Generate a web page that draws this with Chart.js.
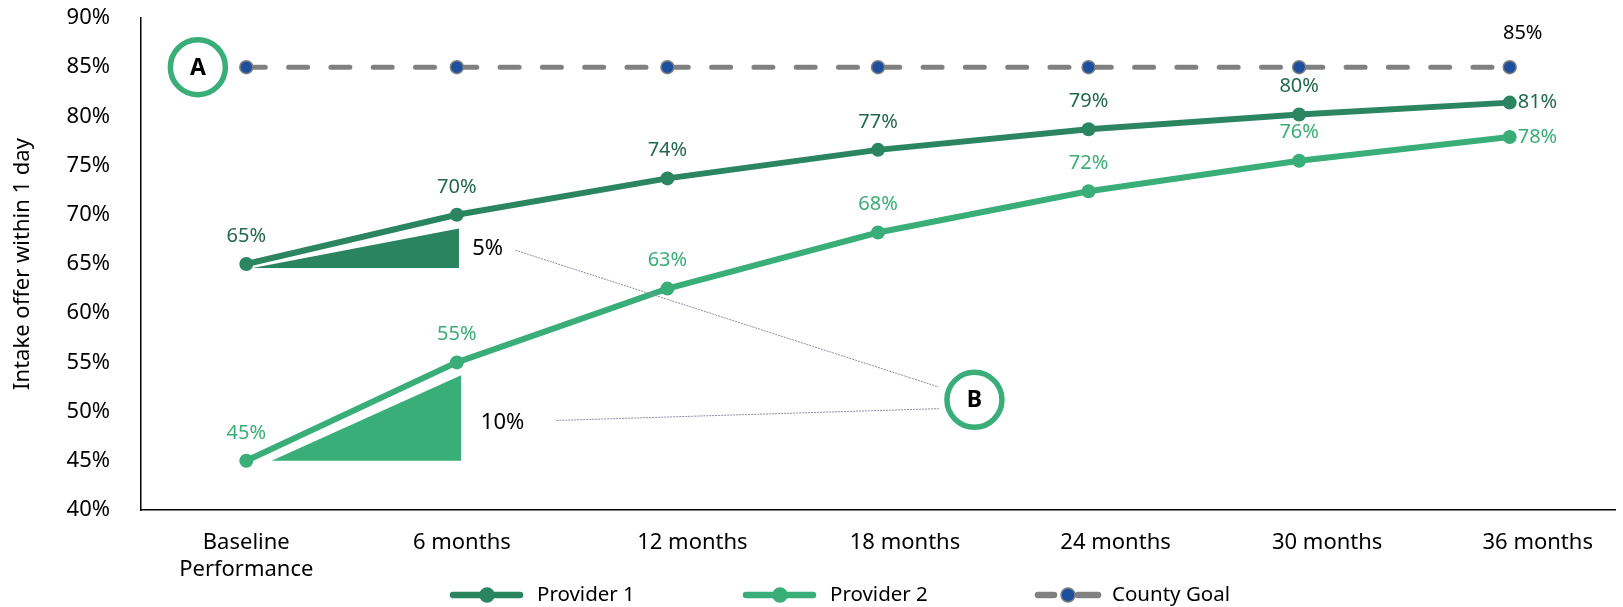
<!DOCTYPE html>
<html><head><meta charset="utf-8">
<script src="https://cdn.jsdelivr.net/npm/chart.js@4.4.1/dist/chart.umd.min.js"></script>
<style>html,body{margin:0;padding:0;background:#fff;}#wrap{width:1623px;height:607px;position:relative;}</style>
</head><body><div id="wrap"><canvas id="c"></canvas></div>
<script>
// ---- data ----
const categories = [['Baseline', 'Performance'], '6 months', '12 months', '18 months', '24 months', '30 months', '36 months'];
const provider1 = [65, 70, 73.7, 76.6, 78.7, 80.2, 81.4];
const provider2 = [45, 55, 62.5, 68.2, 72.4, 75.5, 77.9];
const countyGoal = [85, 85, 85, 85, 85, 85, 85];
const seriesNames = ['Provider 1', 'Provider 2', 'County Goal'];
const yMin = 40, yMax = 90, yStep = 5;
const yTitle = 'Intake offer within 1 day';

// ---- styles / layout ----
const C1 = '#2b8561', C2 = '#3aae78', CG = '#808080', CB = '#1d4f9e';
const L1 = '#22684b';
const FONT = '"Noto Sans", "Open Sans", sans-serif';
const labelShift = [0, 5, 25, 27, 27, 28, 28]; // horizontal nudge of category labels (px)

// annotation anchors in (category index, percent) space
const circleA = {x: -0.23, y: 85, text: 'A'};
const circleB = {x: 3.458, y: 51.2, text: 'B'};
const triangles = [
  {pts: [[0.03, 64.6], [1.01, 68.6], [1.01, 64.6]], color: '#2b8460', text: Math.round(provider1[1] - provider1[0]) + '%', tx: 1.146, ty: 66.6,
   lead: [[1.278, 66.4], [3.288, 52.5]]},
  {pts: [[0.12, 45.0], [1.02, 53.7], [1.02, 45.0]], color: '#3aae78', text: Math.round(provider2[1] - provider2[0]) + '%', tx: 1.217, ty: 48.9,
   lead: [[1.472, 49.1], [3.288, 50.3]]}
];

const labelCfg = [
  {color: L1, dy: 28, lastRight: true},
  {color: C2, dy: 28, lastRight: true},
  {color: '#000', dy: 34, dx: 13, onlyLast: true}
];

const tickShiftPlugin = {
  id: 'tickShift',
  beforeDraw(chart) {
    const items = chart.scales.x.getLabelItems();
    items.forEach((it, i) => {
      if (!it._shifted && it.options && it.options.translation) {
        it.options.translation[0] += labelShift[i] || 0;
        it._shifted = true;
      }
    });
  }
};

const valuePlugin = {
  id: 'vals',
  afterDatasetsDraw(chart) {
    const ctx = chart.ctx;
    chart.data.datasets.forEach((ds, di) => {
      const cfg = labelCfg[di];
      const meta = chart.getDatasetMeta(di);
      const n = ds.data.length;
      meta.data.forEach((pt, i) => {
        if (cfg.onlyLast && i !== n - 1) return;
        const txt = Math.round(ds.data[i]) + '%';
        ctx.save();
        ctx.font = '20px ' + FONT;
        ctx.fillStyle = cfg.color;
        ctx.textBaseline = 'middle';
        if (cfg.lastRight && i === n - 1) {
          ctx.textAlign = 'left';
          ctx.fillText(txt, pt.x + 8, pt.y);
        } else {
          ctx.textAlign = 'center';
          ctx.fillText(txt, pt.x + (cfg.dx || 0), pt.y - cfg.dy);
        }
        ctx.restore();
      });
    });
  }
};

const annotPlugin = {
  id: 'annot',
  afterDatasetsDraw(chart) {
    const ctx = chart.ctx, xs = chart.scales.x, ys = chart.scales.y;
    const P = (a) => [xs.getPixelForValue(a[0]), ys.getPixelForValue(a[1])];
    triangles.forEach(t => {
      ctx.save();
      ctx.beginPath();
      t.pts.forEach((p, i) => { const q = P(p); i ? ctx.lineTo(q[0], q[1]) : ctx.moveTo(q[0], q[1]); });
      ctx.closePath();
      ctx.fillStyle = t.color;
      ctx.fill();
      const tp = P([t.tx, t.ty]);
      ctx.font = '22px ' + FONT;
      ctx.fillStyle = '#000';
      ctx.textAlign = 'center';
      ctx.textBaseline = 'middle';
      ctx.fillText(t.text, tp[0], tp[1]);
      const a = P(t.lead[0]), b = P(t.lead[1]);
      ctx.beginPath();
      ctx.setLineDash([2, 1]);
      ctx.strokeStyle = '#8a8aa6';
      ctx.lineWidth = 1;
      ctx.moveTo(a[0], a[1]); ctx.lineTo(b[0], b[1]);
      ctx.stroke();
      ctx.restore();
    });
    [circleA, circleB].forEach(c => {
      const p = P([c.x, c.y]);
      ctx.save();
      ctx.beginPath();
      ctx.arc(p[0], p[1], 27.5, 0, Math.PI * 2);
      ctx.fillStyle = '#fff';
      ctx.fill();
      ctx.lineWidth = 5.5;
      ctx.strokeStyle = C2;
      ctx.stroke();
      ctx.font = 'bold 23px ' + FONT;
      ctx.fillStyle = '#000';
      ctx.textAlign = 'center';
      ctx.textBaseline = 'middle';
      ctx.fillText(c.text, p[0], p[1] + 1);
      ctx.restore();
    });
  }
};

// legend drawn at the bottom
const legendStyles = [
  {line: C1, dot: C1, dotBorder: C1, split: false},
  {line: C2, dot: C2, dotBorder: C2, split: false},
  {line: CG, dot: CB, dotBorder: CG, split: true}
];
const LEG_X = [450, 743, 1035], LEG_Y = 595, LEG_LEN = 70, LEG_TXT = 87;
const legendPlugin = {
  id: 'bottomLegend',
  afterDraw(chart) {
    const ctx = chart.ctx;
    seriesNames.forEach((name, i) => {
      const st = legendStyles[i], x0 = LEG_X[i];
      ctx.save();
      ctx.lineCap = 'round';
      ctx.lineWidth = 6.5;
      ctx.strokeStyle = st.line;
      ctx.beginPath();
      if (st.split) {
        ctx.moveTo(x0 + 3, LEG_Y); ctx.lineTo(x0 + 19, LEG_Y);
        ctx.moveTo(x0 + 43, LEG_Y); ctx.lineTo(x0 + 63, LEG_Y);
      } else {
        ctx.moveTo(x0 + 3, LEG_Y); ctx.lineTo(x0 + LEG_LEN, LEG_Y);
      }
      ctx.stroke();
      ctx.beginPath();
      ctx.arc(x0 + (st.split ? 33 : 37), LEG_Y, 7, 0, Math.PI * 2);
      ctx.fillStyle = st.dot; ctx.fill();
      ctx.lineWidth = 1.5; ctx.strokeStyle = st.dotBorder; ctx.stroke();
      ctx.font = '20.5px ' + FONT;
      ctx.fillStyle = '#000';
      ctx.textAlign = 'left';
      ctx.textBaseline = 'middle';
      ctx.fillText(name, x0 + (st.split ? 77 : LEG_TXT), LEG_Y);
      ctx.restore();
    });
  }
};

new Chart(document.getElementById('c'), {
  type: 'line',
  data: {
    labels: categories,
    datasets: [
      {label: seriesNames[0], data: provider1, borderColor: C1, backgroundColor: C1, borderWidth: 6,
       pointRadius: 7, pointBackgroundColor: C1, pointBorderColor: C1, pointBorderWidth: 0, tension: 0},
      {label: seriesNames[1], data: provider2, borderColor: C2, backgroundColor: C2, borderWidth: 6,
       pointRadius: 7, pointBackgroundColor: C2, pointBorderColor: C2, pointBorderWidth: 0, tension: 0},
      {label: seriesNames[2], data: countyGoal, borderColor: CG, backgroundColor: CB, borderWidth: 5,
       borderDash: [19, 23.3], borderCapStyle: 'round', pointRadius: 6.5, pointBackgroundColor: CB,
       pointBorderColor: CG, pointBorderWidth: 1.5, tension: 0}
    ]
  },
  options: {
    responsive: true,
    maintainAspectRatio: false,
    animation: false,
    events: [],
    layout: {padding: {top: 18, right: 2, bottom: 0, left: 0}},
    plugins: {legend: {display: false}, tooltip: {enabled: false}, title: {display: false}},
    scales: {
      x: {
        type: 'category', offset: true,
        grid: {display: false, drawTicks: false},
        border: {display: true, color: '#000', width: 1.5},
        ticks: {color: '#000', font: {family: FONT, size: 22, lineHeight: 1.23}, padding: 19, maxRotation: 0, autoSkip: false},
        afterFit(s) { s.height = 97; }
      },
      y: {
        min: yMin, max: yMax,
        grid: {display: false, drawTicks: false},
        border: {display: true, color: '#000', width: 1.5},
        ticks: {stepSize: yStep, color: '#000', font: {family: FONT, size: 22}, padding: 31, callback: v => v + '%'},
        title: {display: true, text: yTitle, color: '#000', font: {family: FONT, size: 22}, padding: {top: 10, bottom: 0}},
        afterFit(s) { s.width = 141; s.paddingTop = 0; s.paddingBottom = 0; }
      }
    }
  },
  plugins: [tickShiftPlugin, annotPlugin, valuePlugin, legendPlugin]
});
</script></body></html>
